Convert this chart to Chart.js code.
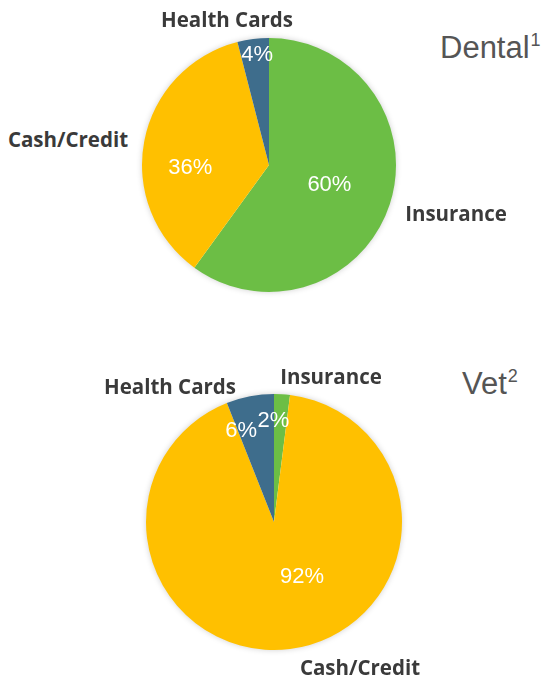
<!DOCTYPE html>
<html>
<head>
<meta charset="utf-8">
<script src="https://cdn.jsdelivr.net/npm/chart.js@4"></script>
<style>
  html, body { margin: 0; padding: 0; background: #ffffff; }
  #page { position: relative; width: 555px; height: 683px; overflow: hidden; }
  .pie { position: absolute; }
  .cat {
    position: absolute; transform: translate(-50%, -50%);
    font-family: "Open Sans", sans-serif; font-weight: 700; font-size: 20.5px;
    color: #3a3a3a; white-space: nowrap;
  }
  .title {
    position: absolute; font-family: "Liberation Sans", Arial, sans-serif;
    font-size: 31px; color: #555555; white-space: nowrap; line-height: 1;
  }
  .title sup { font-size: 18px; vertical-align: 12px; margin-left: 1px; }
</style>
</head>
<body>
<div id="page">
  <div class="pie" style="left:132px; top:28px; width:274px; height:274px;"><canvas id="dental"></canvas></div>
  <div class="pie" style="left:136px; top:384px; width:276px; height:276px;"><canvas id="vet"></canvas></div>
  <div class="title" style="left:440px; top:31px;">Dental<sup>1</sup></div>
  <div class="title" style="left:462px; top:367px;">Vet<sup>2</sup></div>
</div>
<script>
// Payment method shares (%)
const categories = ['Insurance', 'Cash/Credit', 'Health Cards'];
const dentalValues = [60, 36, 4];
const vetValues = [2, 92, 6];
const sliceColors = ['#6cbe45', '#ffc000', '#3e6d8c'];

// Category label anchor points (page px), in category order
const dentalCatPos = [[456, 213], [68, 139], [227, 19]];
const vetCatPos = [[331, 376], [360, 667], [170, 386]];

// Inner value label placement: fraction of radius, angle nudge (deg)
const dentalInner = [[0.5, 0], [0.62, -13], [0.87, 1]];
const vetInner = [[0.79, -4], [0.48, -20], [0.76, -9]];

// Soft halo behind the pie
const haloPlugin = {
  id: 'halo',
  beforeDatasetsDraw(chart) {
    const arc = chart.getDatasetMeta(0).data[0];
    if (!arc) return;
    const ctx = chart.ctx;
    ctx.save();
    ctx.shadowColor = 'rgba(0,0,0,0.22)';
    ctx.shadowBlur = 6;
    ctx.beginPath();
    ctx.arc(arc.x, arc.y, arc.outerRadius - 0.5, 0, Math.PI * 2);
    ctx.fillStyle = '#ffffff';
    ctx.fill();
    ctx.restore();
  }
};

// White percentage labels inside the slices
const valueLabelPlugin = {
  id: 'valueLabels',
  afterDatasetsDraw(chart, args, opts) {
    const ctx = chart.ctx;
    const values = chart.data.datasets[0].data;
    const place = opts.place;
    chart.getDatasetMeta(0).data.forEach((arc, i) => {
      const mid = (arc.startAngle + arc.endAngle) / 2 + place[i][1] * Math.PI / 180;
      const r = arc.outerRadius * place[i][0];
      const x = arc.x + Math.cos(mid) * r;
      const y = arc.y + Math.sin(mid) * r;
      ctx.save();
      ctx.fillStyle = '#ffffff';
      ctx.font = '22px "Liberation Sans", Arial, sans-serif';
      ctx.textAlign = 'center';
      ctx.textBaseline = 'middle';
      ctx.fillText(values[i] + '%', x, y);
      ctx.restore();
    });
  }
};

function makePie(id, values, inner) {
  return new Chart(document.getElementById(id), {
    type: 'pie',
    data: {
      labels: categories,
      datasets: [{ data: values, backgroundColor: sliceColors, borderWidth: 0, hoverOffset: 0 }]
    },
    options: {
      responsive: true,
      maintainAspectRatio: false,
      animation: false,
      layout: { padding: 10 },
      plugins: {
        legend: { display: false },
        tooltip: { enabled: false },
        valueLabels: { place: inner }
      }
    },
    plugins: [haloPlugin, valueLabelPlugin]
  });
}

makePie('dental', dentalValues, dentalInner);
makePie('vet', vetValues, vetInner);

// Category names outside the pies
const page = document.getElementById('page');
function addCats(pos) {
  categories.forEach((name, i) => {
    const d = document.createElement('div');
    d.className = 'cat';
    d.textContent = name;
    d.style.left = pos[i][0] + 'px';
    d.style.top = pos[i][1] + 'px';
    page.appendChild(d);
  });
}
addCats(dentalCatPos);
addCats(vetCatPos);
</script>
</body>
</html>
